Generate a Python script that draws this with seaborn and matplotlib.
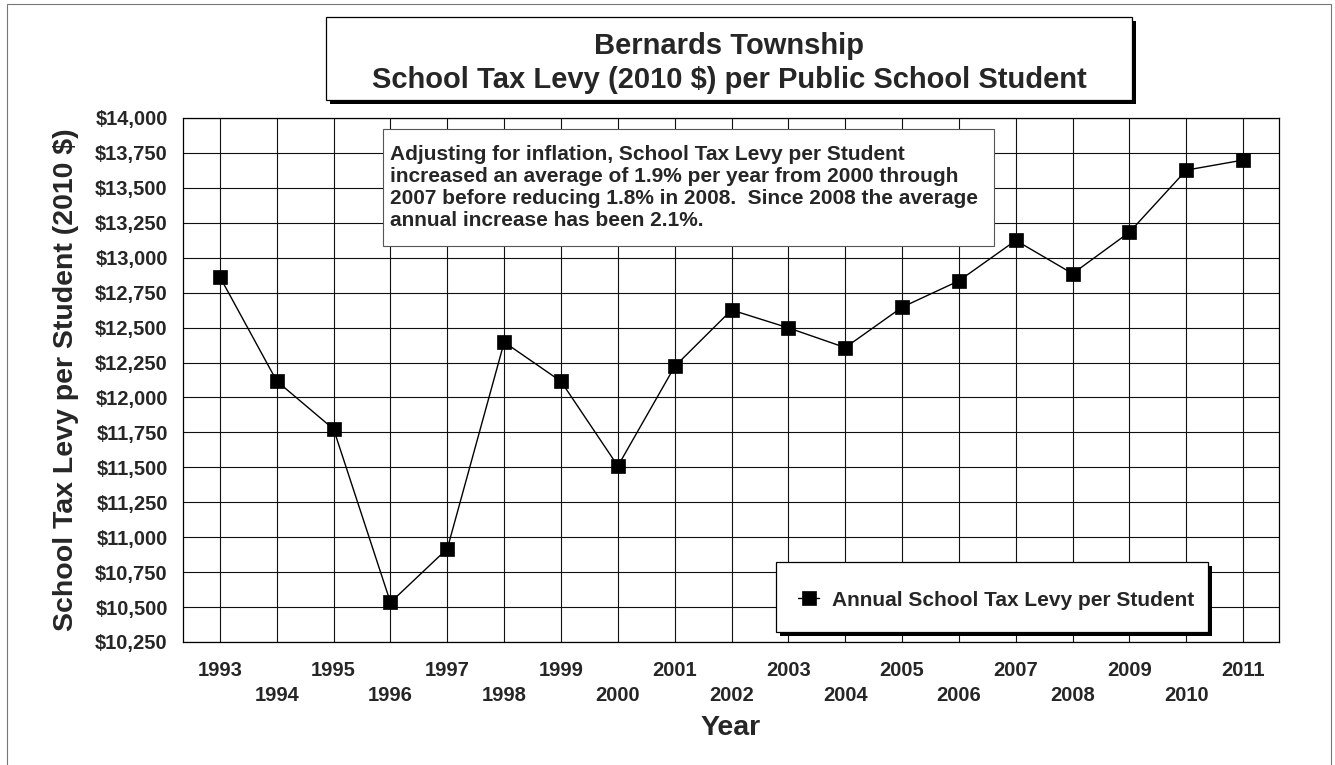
import seaborn as sns
import matplotlib.pyplot as plt
import matplotlib.ticker as mticker
from matplotlib.patches import Rectangle
import pandas as pd

# data
years = [1993, 1994, 1995, 1996, 1997, 1998, 1999, 2000, 2001, 2002,
         2003, 2004, 2005, 2006, 2007, 2008, 2009, 2010, 2011]
levy = [12862, 12117, 11773, 10533, 10918, 12396, 12115, 11509, 12222, 12626,
        12498, 12357, 12646, 12835, 13124, 12886, 13183, 13627, 13699]
y_ticks = list(range(10250, 14001, 250))
series_name = "Annual School Tax Levy per Student"
note = ("Adjusting for inflation, School Tax Levy per Student\n"
        "increased an average of 1.9% per year from 2000 through\n"
        "2007 before reducing 1.8% in 2008.  Since 2008 the average\n"
        "annual increase has been 2.1%.")

df = pd.DataFrame({"year": years, "levy": levy})

sns.set_style("white")
plt.rcParams["font.family"] = ["Liberation Sans", "DejaVu Sans"]
plt.rcParams["font.weight"] = "bold"

W, H = 1335, 765
fig = plt.figure(figsize=(W / 100, H / 100), dpi=100)


def fx(x):
    return x / W


def fy(y):
    return 1 - y / H


# plot area in pixels: left 183, right 1279, top 118, bottom 642
ax = fig.add_axes([fx(183), fy(642), fx(1279 - 183), (642 - 118) / H])

sns.lineplot(data=df, x="year", y="levy", ax=ax, color="black", marker="s",
             markersize=9.5, mec="black", mew=0.5, linewidth=1.0, label=series_name)
ax.get_legend().remove()

ax.set_xlim(years[0] - 0.65, years[-1] + 0.63)
ax.set_ylim(10250, 14000)
ax.set_yticks(y_ticks)
ax.yaxis.set_major_formatter(mticker.FuncFormatter(lambda v, p: f"${v:,.0f}"))
ax.set_xticks(years)
ax.set_xticklabels([str(y) if i % 2 == 0 else "\n" + str(y) for i, y in enumerate(years)])
ax.tick_params(axis="both", length=0, labelsize=14.5)
ax.tick_params(axis="y", pad=11)
ax.tick_params(axis="x", pad=14)
for lab in ax.get_xticklabels():
    lab.set_fontweight("bold")
    lab.set_linespacing(1.4)
for lab in ax.get_yticklabels():
    lab.set_fontweight("bold")

ax.grid(True, color="#111111", linewidth=0.8)
for s in ax.spines.values():
    s.set_color("black")
    s.set_linewidth(0.9)

ax.set_xlabel("Year", fontsize=20.5, fontweight="bold")
ax.xaxis.set_label_coords(0.5, -0.164)
ax.xaxis.label.set_va("center")
ax.set_ylabel("School Tax Levy per Student (2010 $)", fontsize=20.5, fontweight="bold")
ax.yaxis.set_label_coords((66 - 183) / 1096, 0.5)
ax.yaxis.label.set_va("center")


def box(x0, y0, x1, y1, shadow=0, edge="black", lw=0.9):
    if shadow:
        fig.patches.append(Rectangle((fx(x0 + shadow), fy(y1 + shadow)), fx(x1 - x0), (y1 - y0) / H,
                                     transform=fig.transFigure, facecolor="black",
                                     edgecolor="none", zorder=3))
    fig.patches.append(Rectangle((fx(x0), fy(y1)), fx(x1 - x0), (y1 - y0) / H,
                                 transform=fig.transFigure, facecolor="white",
                                 edgecolor=edge, linewidth=lw, zorder=4))


# outer frame
fig.patches.append(Rectangle((fx(7), fy(775)), fx(1331 - 7), (775 - 4) / H,
                             transform=fig.transFigure, facecolor="none",
                             edgecolor="#777777", linewidth=0.8, zorder=1))

# title box
box(326, 17, 1132, 100, shadow=4)
fig.text(fx(729), fy(46), "Bernards Township", ha="center", va="center",
         fontsize=21, fontweight="bold", zorder=6)
fig.text(fx(729), fy(80), "School Tax Levy (2010 $) per Public School Student",
         ha="center", va="center", fontsize=21, fontweight="bold", zorder=6)

# note box
box(383, 129, 994, 246, edge="#555555", lw=0.8)
fig.text(fx(390), fy(187), note, ha="left", va="center", fontsize=15,
         fontweight="bold", linespacing=1.2, zorder=6)

# legend box
box(776, 562, 1208, 632, shadow=4)
handles, labels = ax.get_legend_handles_labels()
fig.legend(handles, labels, loc="center left", bbox_to_anchor=(fx(788), fy(600)),
           frameon=False, handlelength=1.0, handletextpad=0.6,
           borderpad=0, prop={"weight": "bold", "size": 15})

fig.savefig("out.png", dpi=100)
